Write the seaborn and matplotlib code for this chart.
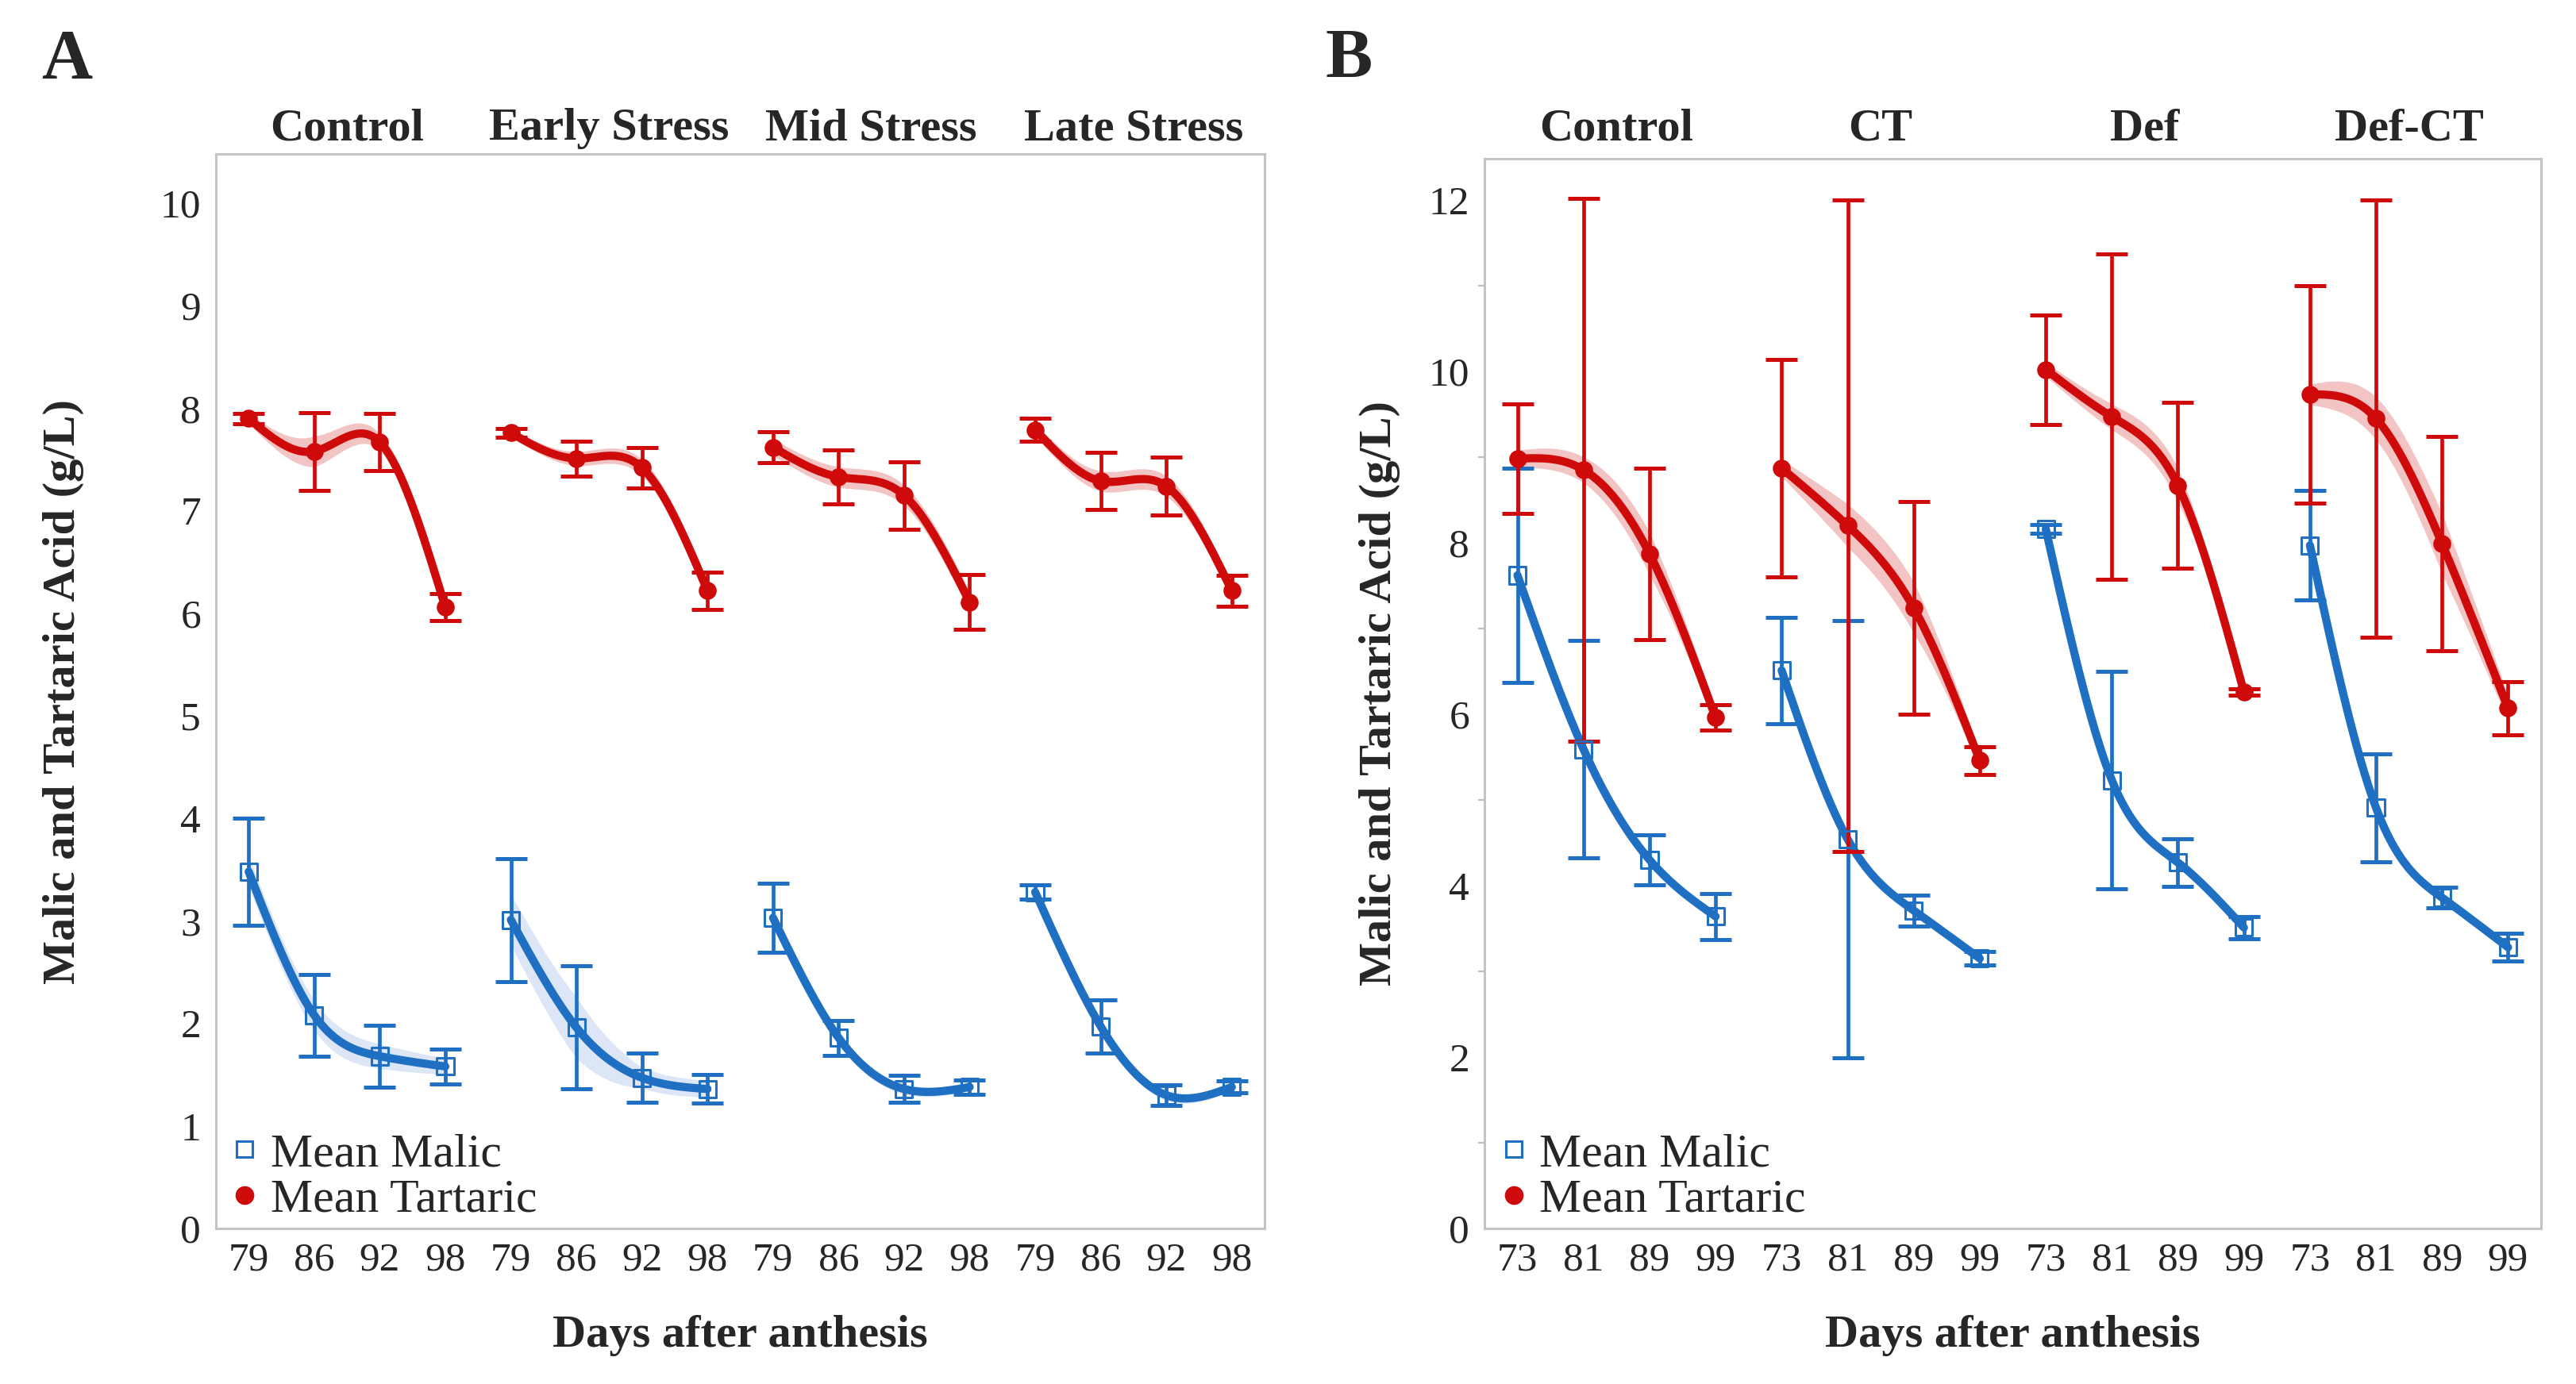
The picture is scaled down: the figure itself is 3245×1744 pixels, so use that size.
import numpy as np
import pandas as pd
import matplotlib
matplotlib.use("Agg")
import matplotlib.pyplot as plt
import matplotlib.transforms as mtransforms
import seaborn as sns
from matplotlib.lines import Line2D
from matplotlib.ticker import MultipleLocator

# ---- panel A data ----
groups_a = ["Control", "Early Stress", "Mid Stress", "Late Stress"]
days_a = [79, 86, 92, 98]
tartaric_a = [[7.90, 7.58, 7.67, 6.06], [7.76, 7.51, 7.42, 6.22],
              [7.62, 7.33, 7.15, 6.11], [7.79, 7.29, 7.24, 6.22]]
tartaric_err_a = [[0.05, 0.38, 0.28, 0.13], [0.04, 0.17, 0.20, 0.18],
                  [0.15, 0.26, 0.33, 0.27], [0.11, 0.28, 0.28, 0.15]]
tartaric_band_a = [[0.05, 0.15, 0.08, 0.10], [0.04, 0.07, 0.08, 0.10],
                   [0.08, 0.10, 0.10, 0.10], [0.06, 0.10, 0.10, 0.08]]
malic_a = [[3.48, 2.08, 1.68, 1.58], [3.01, 1.96, 1.47, 1.36],
           [3.03, 1.86, 1.36, 1.38], [3.28, 1.97, 1.30, 1.38]]
malic_err_a = [[0.52, 0.40, 0.30, 0.17], [0.60, 0.60, 0.24, 0.14],
               [0.34, 0.17, 0.13, 0.07], [0.07, 0.26, 0.10, 0.06]]
malic_band_a = [[0.15, 0.15, 0.12, 0.08], [0.25, 0.30, 0.10, 0.08],
                [0.08, 0.06, 0.05, 0.04], [0.05, 0.06, 0.05, 0.04]]

# ---- panel B data ----
groups_b = ["Control", "CT", "Def", "Def-CT"]
days_b = [73, 81, 89, 99]
tartaric_b = [[8.98, 8.85, 7.87, 5.96], [8.87, 8.20, 7.24, 5.46],
              [10.02, 9.47, 8.67, 6.26], [9.73, 9.45, 7.99, 6.07]]
tartaric_err_b = [[0.64, 3.17, 1.00, 0.15], [1.27, 3.80, 1.24, 0.16],
                  [0.64, 1.90, 0.97, 0.04], [1.27, 2.55, 1.25, 0.31]]
tartaric_band_b = [[0.10, 0.15, 0.25, 0.10], [0.10, 0.25, 0.30, 0.10],
                   [0.08, 0.15, 0.20, 0.05], [0.12, 0.25, 0.35, 0.15]]
malic_b = [[7.62, 5.59, 4.30, 3.64], [6.51, 4.54, 3.71, 3.15],
           [8.16, 5.23, 4.27, 3.51], [7.97, 4.91, 3.86, 3.28]]
malic_err_b = [[1.25, 1.27, 0.29, 0.27], [0.62, 2.55, 0.18, 0.08],
               [0.05, 1.27, 0.28, 0.13], [0.64, 0.63, 0.12, 0.16]]
malic_band_b = [[0.06, 0.08, 0.06, 0.05], [0.06, 0.08, 0.06, 0.05],
                [0.05, 0.08, 0.06, 0.05], [0.06, 0.08, 0.06, 0.05]]

BLUE = "#1f6fc2"
RED = "#cf0a0a"
BAND = {"Malic": "#dce6f6", "Tartaric": "#f3c4c4"}
COLORS = {"Malic": BLUE, "Tartaric": RED}

W, H = 3245, 1744
DPI = 200


def natural_spline(x, y, xs):
    x = np.asarray(x, float)
    y = np.asarray(y, float)
    n = len(x)
    h = np.diff(x)
    A = np.zeros((n, n))
    r = np.zeros(n)
    A[0, 0] = A[-1, -1] = 1
    for i in range(1, n - 1):
        A[i, i - 1] = h[i - 1]
        A[i, i] = 2 * (h[i - 1] + h[i])
        A[i, i + 1] = h[i]
        r[i] = 3 * ((y[i + 1] - y[i]) / h[i] - (y[i] - y[i - 1]) / h[i - 1])
    c = np.linalg.solve(A, r)
    b = (y[1:] - y[:-1]) / h - h * (2 * c[:-1] + c[1:]) / 3
    d = (c[1:] - c[:-1]) / (3 * h)
    k = np.clip(np.searchsorted(x, xs) - 1, 0, n - 2)
    t = xs - x[k]
    return y[k] + b[k] * t + c[k] * t ** 2 + d[k] * t ** 3


def build_frames(groups, days, malic, malic_err, malic_band,
                 tartaric, tartaric_err, tartaric_band):
    rows, curves = [], []
    series = {"Malic": (malic, malic_err, malic_band),
              "Tartaric": (tartaric, tartaric_err, tartaric_band)}
    for g, grp in enumerate(groups):
        for acid, (m, e, b) in series.items():
            for j, day in enumerate(days):
                rows.append(dict(group=grp, day=day, pos=4 * g + j, acid=acid,
                                 mean=m[g][j], err=e[g][j]))
            xs = np.linspace(0, 3, 150)
            fit = natural_spline(range(4), m[g], xs)
            half = np.interp(xs, range(4), b[g])
            curves.append(pd.DataFrame(dict(pos=4 * g + xs, fit=fit,
                                            lo=fit - half, hi=fit + half,
                                            acid=acid, curve=f"{grp}-{acid}")))
    return pd.DataFrame(rows), pd.concat(curves, ignore_index=True)


def draw_panel(ax, groups, days, df, smooth, ymax, minor):
    for name, c in smooth.groupby("curve", sort=False):
        ax.fill_between(c["pos"], c["lo"], c["hi"], color=BAND[c["acid"].iloc[0]],
                        lw=0, zorder=1)
    sns.lineplot(data=smooth, x="pos", y="fit", hue="acid", units="curve",
                 estimator=None, palette=COLORS, lw=3.7, legend=False,
                 sort=False, ax=ax, zorder=2)
    for acid in ["Malic", "Tartaric"]:
        sub = df[df["acid"] == acid]
        ax.errorbar(sub["pos"], sub["mean"], yerr=sub["err"], fmt="none",
                    ecolor=COLORS[acid], elinewidth=1.7, capsize=7.2,
                    capthick=1.8, zorder=3)
    mal = df[df["acid"] == "Malic"]
    tar = df[df["acid"] == "Tartaric"]
    sns.scatterplot(data=mal, x="pos", y="mean", marker="s", s=58,
                    color="none", edgecolor=BLUE, linewidth=1.1, ax=ax,
                    zorder=4)
    sns.scatterplot(data=tar, x="pos", y="mean", marker="o", s=66,
                    color=RED, edgecolor=RED, linewidth=0, ax=ax, zorder=4)

    ax.set_xlim(-0.5, 4 * len(groups) - 0.5)
    ax.set_ylim(0, ymax)
    ax.set_xticks(range(4 * len(groups)))
    ax.set_xticklabels([str(d) for _ in groups for d in days])
    ax.set_xlabel("")
    ax.set_ylabel("")
    ax.tick_params(axis="x", length=0, pad=6, labelsize=18.5)
    ax.tick_params(axis="y", which="major", length=5.8, width=0.8,
                   color="#a8a8a8", pad=1, labelsize=18.5, direction="out")
    if minor:
        ax.yaxis.set_minor_locator(MultipleLocator(1))
        ax.tick_params(axis="y", which="minor", length=3, width=0.7,
                       color="#b8b8b8", left=True)
    for s in ax.spines.values():
        s.set_color("#c4c4c4")
        s.set_linewidth(1.1)
    # group titles, baseline at the same figure height in both panels
    trans = mtransforms.blended_transform_factory(ax.transData, fig.transFigure)
    for g, grp in enumerate(groups):
        ax.text(4 * g + 1.5, 1 - 176 / H, grp, transform=trans,
                ha="center", va="baseline", fontsize=21, fontweight="bold",
                clip_on=False)


sns.set_theme(style="white")
plt.rcParams["font.family"] = ["Liberation Serif", "DejaVu Serif"]

fig = plt.figure(figsize=(W / DPI, H / DPI), dpi=DPI)


def px_axes(left, top, right, bottom):
    return fig.add_axes([left / W, 1 - bottom / H, (right - left) / W,
                         (bottom - top) / H])


ax_a = px_axes(272, 194, 1593, 1548)
ax_b = px_axes(1870, 200, 3201, 1548)

df_a, sm_a = build_frames(groups_a, days_a, malic_a, malic_err_a, malic_band_a,
                          tartaric_a, tartaric_err_a, tartaric_band_a)
df_b, sm_b = build_frames(groups_b, days_b, malic_b, malic_err_b, malic_band_b,
                          tartaric_b, tartaric_err_b, tartaric_band_b)

draw_panel(ax_a, groups_a, days_a, df_a, sm_a, 10.48, minor=False)
draw_panel(ax_b, groups_b, days_b, df_b, sm_b, 12.48, minor=True)
ax_a.set_yticks(range(0, 11))
ax_b.set_yticks(range(0, 13, 2))

handles = [Line2D([], [], ls="none", marker="s", ms=7, mfc="none", mec=BLUE, mew=1.1),
           Line2D([], [], ls="none", marker="o", ms=7.5, mfc=RED, mec=RED)]
labels = ["Mean Malic", "Mean Tartaric"]
for ax in (ax_a, ax_b):
    ax.legend(handles, labels, loc="lower left", bbox_to_anchor=(0.014, 0.006),
              frameon=False, handlelength=0.6, handletextpad=0.25,
              labelspacing=0.05, borderpad=0, borderaxespad=0, fontsize=21.5)

fig.text(52 / W, 1 - 98 / H, "A", fontsize=32, fontweight="bold", va="baseline")
fig.text(1669 / W, 1 - 97 / H, "B", fontsize=32, fontweight="bold", va="baseline")
for cx, cy in [(80, 871), (1738, 874)]:
    fig.text(cx / W, 1 - cy / H, "Malic and Tartaric Acid (g/L)", rotation=90,
             ha="center", va="center", fontsize=21, fontweight="bold")
for cx in (932, 2535):
    fig.text(cx / W, 1 - 1697 / H, "Days after anthesis", ha="center",
             va="baseline", fontsize=21, fontweight="bold")

fig.savefig("out.png", dpi=DPI, facecolor="white")
